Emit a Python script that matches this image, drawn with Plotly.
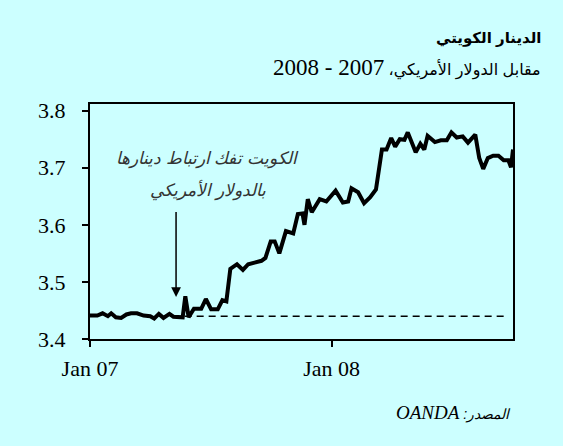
import plotly.graph_objects as go

# KWD per USD (weekly-ish readings from the picture)
dates = [
    "2007-01-01", "2007-01-12", "2007-01-20", "2007-01-28", "2007-02-02", "2007-02-09",
    "2007-02-17", "2007-02-25", "2007-03-04", "2007-03-13", "2007-03-23", "2007-04-02",
    "2007-04-08", "2007-04-15", "2007-04-22", "2007-05-01", "2007-05-07", "2007-05-15",
    "2007-05-21", "2007-05-25", "2007-05-30", "2007-06-07", "2007-06-18", "2007-06-25",
    "2007-07-03", "2007-07-13", "2007-07-20", "2007-07-26", "2007-08-01", "2007-08-11",
    "2007-08-20", "2007-08-28", "2007-09-07", "2007-09-17", "2007-09-23", "2007-10-01",
    "2007-10-07", "2007-10-14", "2007-10-24", "2007-11-04", "2007-11-11", "2007-11-18",
    "2007-11-21", "2007-11-26", "2007-12-02", "2007-12-14", "2007-12-24", "2008-01-07",
    "2008-01-18", "2008-01-26", "2008-01-31", "2008-02-10", "2008-02-19", "2008-02-28",
    "2008-03-08", "2008-03-17", "2008-03-24", "2008-03-31", "2008-04-06", "2008-04-13",
    "2008-04-20", "2008-04-25", "2008-05-07", "2008-05-14", "2008-05-20", "2008-05-25",
    "2008-06-05", "2008-06-14", "2008-06-23", "2008-06-30", "2008-07-08", "2008-07-17",
    "2008-07-25", "2008-08-05", "2008-08-11", "2008-08-17", "2008-08-24", "2008-09-01",
    "2008-09-09", "2008-09-17", "2008-09-24", "2008-09-28", "2008-10-01",
]
rates = [
    3.441, 3.441, 3.445, 3.440, 3.445, 3.438,
    3.437, 3.443, 3.445, 3.445, 3.441, 3.440,
    3.436, 3.444, 3.437, 3.444, 3.439, 3.438,
    3.438, 3.475, 3.438, 3.453, 3.453, 3.470,
    3.452, 3.452, 3.468, 3.466, 3.523, 3.531,
    3.521, 3.531, 3.534, 3.537, 3.542, 3.571,
    3.571, 3.550, 3.589, 3.585, 3.619, 3.620,
    3.600, 3.645, 3.622, 3.645, 3.641, 3.660,
    3.639, 3.641, 3.664, 3.657, 3.638, 3.648,
    3.662, 3.732, 3.732, 3.752, 3.737, 3.750,
    3.749, 3.762, 3.727, 3.742, 3.732, 3.756,
    3.745, 3.748, 3.748, 3.762, 3.753, 3.755,
    3.744, 3.758, 3.717, 3.698, 3.717, 3.721,
    3.721, 3.713, 3.713, 3.701, 3.732,
]

# old peg level (dashed reference)
peg_dates = ["2007-05-24", "2008-09-17"]
peg_values = [3.44, 3.44]

# arrow marking the de-peg
arrow_date = "2007-05-11"
arrow_from = 3.640
arrow_to = 3.4735
note_date = "2007-06-28"
note_line1 = 3.7155
note_line2 = 3.661

x_tickvals = ["2007-01-01", "2008-01-01"]
x_ticktext = ["Jan 07", "Jan 08"]
y_tickvals = [3.4, 3.5, 3.6, 3.7, 3.8]

BG = "#CCFFFF"
SERIF = "Liberation Serif"
SANS = "Liberation Sans, DejaVu Sans, Arial"

fig = go.Figure()
fig.add_trace(go.Scatter(x=peg_dates, y=peg_values, mode="lines",
                         line=dict(color="black", width=1.5, dash="7px,5px"),
                         hoverinfo="skip", showlegend=False))
fig.add_trace(go.Scatter(x=dates, y=rates, mode="lines",
                         line=dict(color="black", width=4),
                         showlegend=False))

RLE, PDF = "\u202b", "\u202c"

annotations = [
    # arrow
    dict(x=arrow_date, y=arrow_to, ax=arrow_date, ay=arrow_from,
         xref="x", yref="y", axref="x", ayref="y", text=" ",
         showarrow=True, arrowhead=2, arrowsize=1.3, arrowwidth=1.5,
         arrowcolor="black"),
    dict(x=note_date, y=note_line1, xref="x", yref="y", showarrow=False,
         text="<i>الكويت تفك ارتباط دينارها</i>",
         font=dict(family=SANS, size=17, color="#333333")),
    dict(x=note_date, y=note_line2, xref="x", yref="y", showarrow=False,
         text="<i>بالدولار الأمريكي</i>",
         font=dict(family=SANS, size=17, color="#333333")),
    # title
    dict(x=1.071, y=1.28, xref="paper", yref="paper", xanchor="right",
         yanchor="middle", showarrow=False,
         text="<b>الدينار الكويتي</b>",
         font=dict(family=SANS, size=15, color="black")),
    dict(x=1.071, y=1.155, xref="paper", yref="paper", xanchor="right",
         yanchor="middle", showarrow=False,
         text=RLE + "مقابل الدولار الأمريكي، "
              + f'<span style="font-family:{SERIF};font-size:23px">2007 - 2008</span>' + PDF,
         font=dict(family=SANS, size=16, color="black")),
    # source
    dict(x=1.0, y=-0.311, xref="paper", yref="paper", xanchor="right",
         yanchor="middle", showarrow=False,
         text=RLE + "<i>المصدر: "
              + f'<span style="font-family:{SERIF};font-size:19px">OANDA</span></i>' + PDF,
         font=dict(family=SANS, size=14, color="black")),
]

fig.update_layout(
    width=563, height=446,
    margin=dict(l=90, r=50, t=104, b=107),
    paper_bgcolor=BG, plot_bgcolor=BG,
    annotations=annotations,
    xaxis=dict(type="date", range=["2007-01-01", "2008-10-01"],
               tickmode="array", tickvals=x_tickvals, ticktext=x_ticktext,
               ticks="outside", ticklen=6, tickwidth=2, tickcolor="black",
               showline=True, linecolor="black", linewidth=2, mirror=True,
               showgrid=False, zeroline=False, ticklabelstandoff=3,
               tickfont=dict(family=SERIF, size=22, color="black")),
    yaxis=dict(range=[3.4, 3.8117], tickmode="array", tickvals=y_tickvals,
               tickformat=".1f",
               ticks="outside", ticklen=6, tickwidth=2, tickcolor="black",
               showline=True, linecolor="black", linewidth=2, mirror=True,
               showgrid=False, zeroline=False, ticklabelstandoff=12,
               tickfont=dict(family=SERIF, size=22, color="black")),
)

fig.write_html("out.html", config={"displayModeBar": False},
               post_script="document.body.style.margin='0';document.body.style.overflow='hidden';")
